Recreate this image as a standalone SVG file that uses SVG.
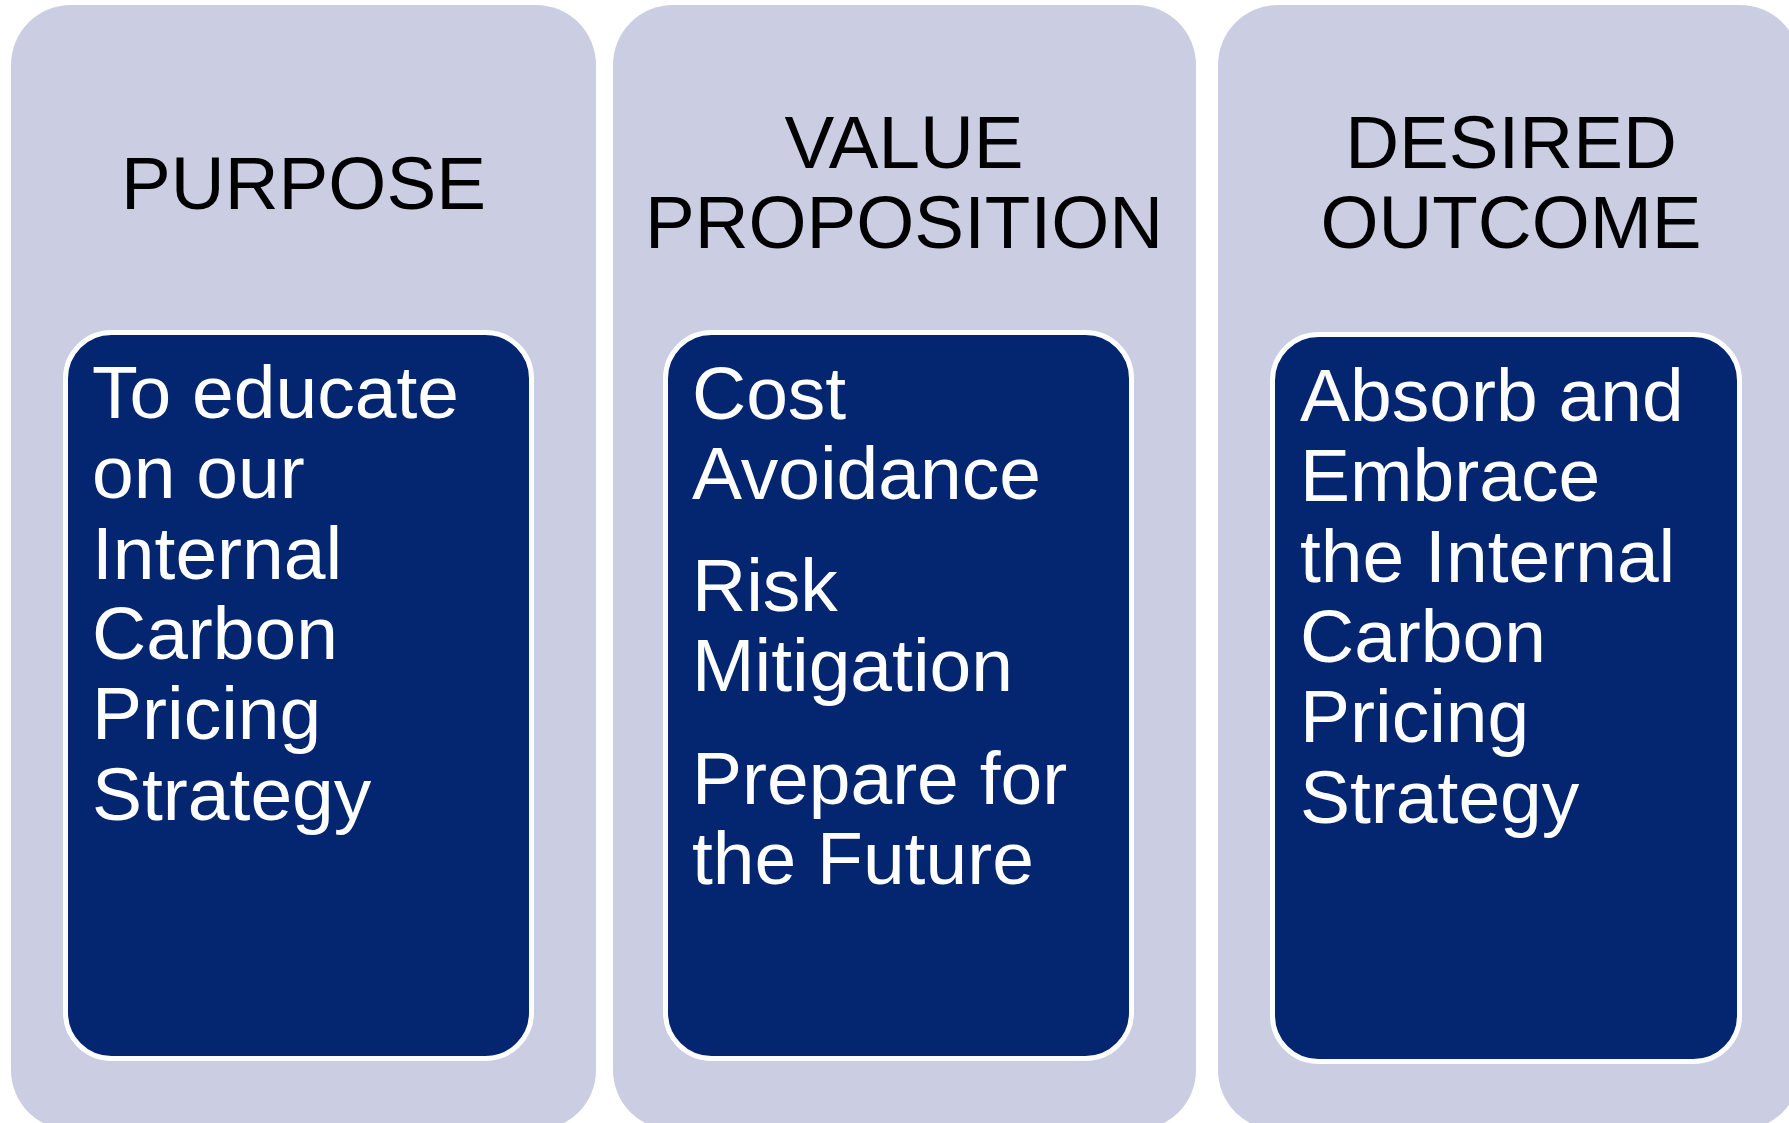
<svg xmlns="http://www.w3.org/2000/svg" width="1789" height="1123" viewBox="0 0 1789 1123">
  <style>
    .panel { fill: #CBCEE3; }
    .box { fill: #042570; stroke: #FFFFFF; stroke-width: 5; }
    .head { font-family: "Liberation Sans", Arial, sans-serif; font-size: 74.6px; fill: #000000; text-anchor: middle; }
    .body { font-family: "Liberation Sans", Arial, sans-serif; font-size: 75px; fill: #FFFFFF; }
  </style>
  <rect width="1789" height="1123" fill="#FFFFFF"/>
  <g id="connectors"/>
  <g id="purpose">
    <rect class="panel" x="11" y="5" width="585" height="1125" rx="60" ry="60"/>
    <text class="head" x="303.5" y="209">PURPOSE</text>
    <rect class="box" x="65.5" y="332.5" width="466" height="726" rx="46" ry="46"/>
    <text class="body">
      <tspan x="92" y="418">To educate</tspan>
      <tspan x="92" y="498.3">on our</tspan>
      <tspan x="92" y="578.6">Internal</tspan>
      <tspan x="92" y="658.9">Carbon</tspan>
      <tspan x="92" y="739.2">Pricing</tspan>
      <tspan x="92" y="819.5">Strategy</tspan>
    </text>
  </g>
  <g id="value-proposition">
    <rect class="panel" x="613" y="5" width="583" height="1125" rx="60" ry="60"/>
    <text class="head" x="904" y="168">VALUE</text>
    <text class="head" x="904" y="248">PROPOSITION</text>
    <rect class="box" x="665.5" y="332.5" width="466" height="726" rx="46" ry="46"/>
    <text class="body">
      <tspan x="692" y="419">Cost</tspan>
      <tspan x="692" y="499">Avoidance</tspan>
      <tspan x="692" y="611">Risk</tspan>
      <tspan x="692" y="691">Mitigation</tspan>
      <tspan x="692" y="804">Prepare for</tspan>
      <tspan x="692" y="884">the Future</tspan>
    </text>
  </g>
  <g id="desired-outcome">
    <rect class="panel" x="1218" y="5" width="582" height="1125" rx="60" ry="60"/>
    <text class="head" x="1511" y="168">DESIRED</text>
    <text class="head" x="1511" y="248">OUTCOME</text>
    <rect class="box" x="1272.5" y="334.5" width="467" height="727" rx="46" ry="46"/>
    <text class="body">
      <tspan x="1300" y="421">Absorb and</tspan>
      <tspan x="1300" y="501.3">Embrace</tspan>
      <tspan x="1300" y="581.6">the Internal</tspan>
      <tspan x="1300" y="661.9">Carbon</tspan>
      <tspan x="1300" y="742.2">Pricing</tspan>
      <tspan x="1300" y="822.5">Strategy</tspan>
    </text>
  </g>
</svg>
